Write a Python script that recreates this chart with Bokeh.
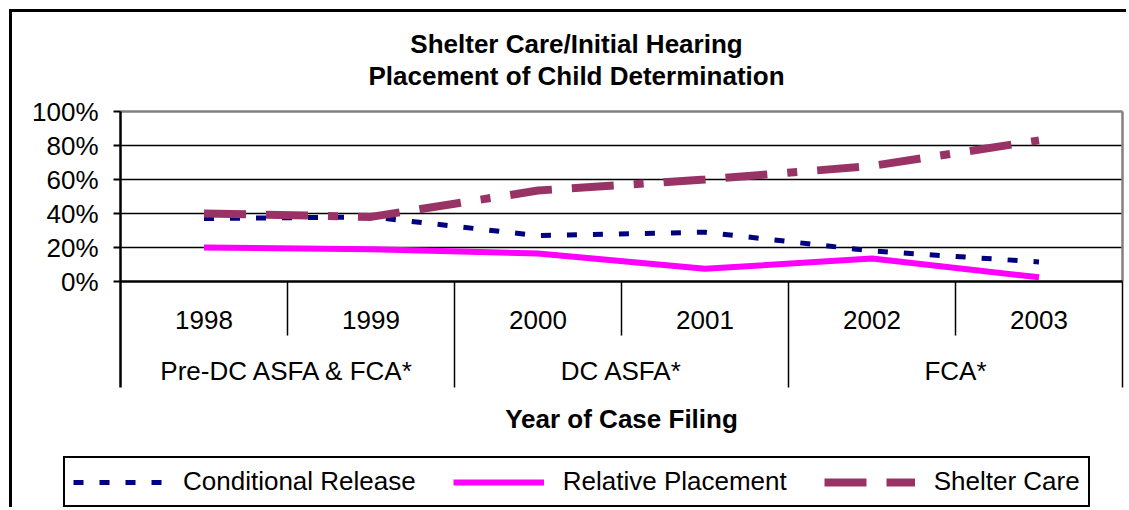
import numpy as np
from bokeh.plotting import figure
from bokeh.models import Range1d, Legend, LegendItem
from bokeh.embed import file_html
from bokeh.resources import INLINE
from bokeh.core.properties import value

# ---- data ----
years = ["1998", "1999", "2000", "2001", "2002", "2003"]
groups = ["Pre-DC ASFA & FCA*", "DC ASFA*", "FCA*"]
years_per_group = 2
conditional_release = [37, 38, 27, 29, 18, 11.5]
relative_placement = [20, 19, 16.5, 7.5, 13.5, 2.5]
shelter_care = [40, 38, 53.5, 60, 68, 83]
y_ticks = [0, 20, 40, 60, 80, 100]
y_tick_labels = ["0%", "20%", "40%", "60%", "80%", "100%"]
title_lines = ["Shelter Care/Initial Hearing", "Placement of Child Determination"]
x_title = "Year of Case Filing"

FONT = "Liberation Sans"
FS = "26px"

W, H = 1117, 498
# plot area occupies x in [0, 6] (1002 px) and y in [0, 100] (170 px)
PX_X = 167.0
PX_Y = 1.7
x_start, x_end = -108 / PX_X, 6 + 7 / PX_X
y_top, y_bot = 100 + 99 / PX_Y, -(498 - 269) / PX_Y

TICK_LEN = 7 / PX_X
LABEL_X = -22 / PX_X
YEAR_LABEL_Y = -22.9
GROUP_LABEL_Y = -52.4
YEAR_SEP_Y = -31.8
GROUP_SEP_Y = -62.35
AXIS_TITLE_Y = -80.6
TITLE_X = 456 / PX_X
TITLE_Y = [139.6, 120.6]

p = figure(width=W, height=H, x_range=Range1d(x_start, x_end), y_range=Range1d(y_bot, y_top),
           x_axis_location=None, y_axis_location=None, toolbar_location=None, output_backend="svg",
           min_border=0, outline_line_color=None, background_fill_color="white",
           border_fill_color="white")
p.grid.visible = False
p.styles = {"margin-left": "9px", "margin-top": "9px",
            "border-left": "3px solid black", "border-top": "3px solid black"}

n = len(years)
nt = len(y_ticks)

# horizontal gridlines (black) and top/right plot-area border (grey)
inner = y_ticks[1:-1]
p.segment(x0=[0] * len(inner), y0=inner, x1=[n] * len(inner), y1=inner, line_color="black", line_width=1.5)
p.segment(x0=[0], y0=[y_ticks[-1]], x1=[n], y1=[y_ticks[-1]], line_color="#808080", line_width=2.5)
p.segment(x0=[n], y0=[0], x1=[n], y1=[y_ticks[-1]], line_color="#808080", line_width=2.5)

# value axis
p.segment(x0=[0], y0=[y_ticks[-1]], x1=[0], y1=[GROUP_SEP_Y], line_color="black", line_width=2.5)
p.segment(x0=[-TICK_LEN] * nt, y0=y_ticks, x1=[0] * nt, y1=y_ticks, line_color="black", line_width=2)
p.text(x=[LABEL_X] * nt, y=y_ticks, text=y_tick_labels, text_font=value(FONT), text_font_size=FS,
       text_align="right", text_baseline="middle", text_color="black")

# category axis
bounds = np.arange(n + 1)
year_bounds = [b for b in bounds if b % years_per_group != 0]
group_bounds = [b for b in bounds if b % years_per_group == 0 and b > 0]
p.segment(x0=year_bounds, y0=[0] * len(year_bounds), x1=year_bounds, y1=[YEAR_SEP_Y] * len(year_bounds),
          line_color="black", line_width=1.5)
p.segment(x0=group_bounds, y0=[0] * len(group_bounds), x1=group_bounds, y1=[GROUP_SEP_Y] * len(group_bounds),
          line_color="black", line_width=1.5)
p.segment(x0=[0], y0=[0], x1=[n], y1=[0], line_color="black", line_width=2.5)

x = np.arange(n) + 0.5
gx = np.arange(len(groups)) * years_per_group + years_per_group / 2

p.text(x=x, y=[YEAR_LABEL_Y] * n, text=years, text_font=value(FONT), text_font_size=FS,
       text_align="center", text_baseline="middle", text_color="black")
p.text(x=gx, y=[GROUP_LABEL_Y] * len(groups), text=groups, text_font=value(FONT), text_font_size=FS,
       text_align="center", text_baseline="middle", text_color="black")
p.text(x=[n / 2], y=[AXIS_TITLE_Y], text=[x_title], text_font=value(FONT), text_font_size=FS,
       text_font_style="bold", text_align="center", text_baseline="middle", text_color="black")
p.text(x=[TITLE_X] * 2, y=TITLE_Y, text=title_lines, text_font=value(FONT), text_font_size=FS,
       text_font_style="bold", text_align="center", text_baseline="middle", text_color="black")

# series
r1 = p.line(x, conditional_release, line_color="#000080", line_width=5, line_dash="10 16")
r2 = p.line(x, relative_placement, line_color="#FF00FF", line_width=6)
r3 = p.line(x, shelter_care, line_color="#993366", line_width=8, line_dash="42 20 42 20 10 20")

legend = Legend(items=[LegendItem(label="Conditional Release", renderers=[r1]),
                       LegendItem(label="Relative Placement", renderers=[r2]),
                       LegendItem(label="Shelter Care", renderers=[r3])],
                orientation="horizontal", location=(51, 3),
                border_line_color="black", border_line_width=2, border_line_alpha=1,
                padding=8, spacing=37, label_standoff=19, glyph_width=91, glyph_height=20,
                label_text_font=FONT, label_text_font_size=FS, label_text_color="black",
                margin=0, background_fill_color="white", background_fill_alpha=1)
p.add_layout(legend)

open("out.html", "w").write(file_html(p, INLINE))
